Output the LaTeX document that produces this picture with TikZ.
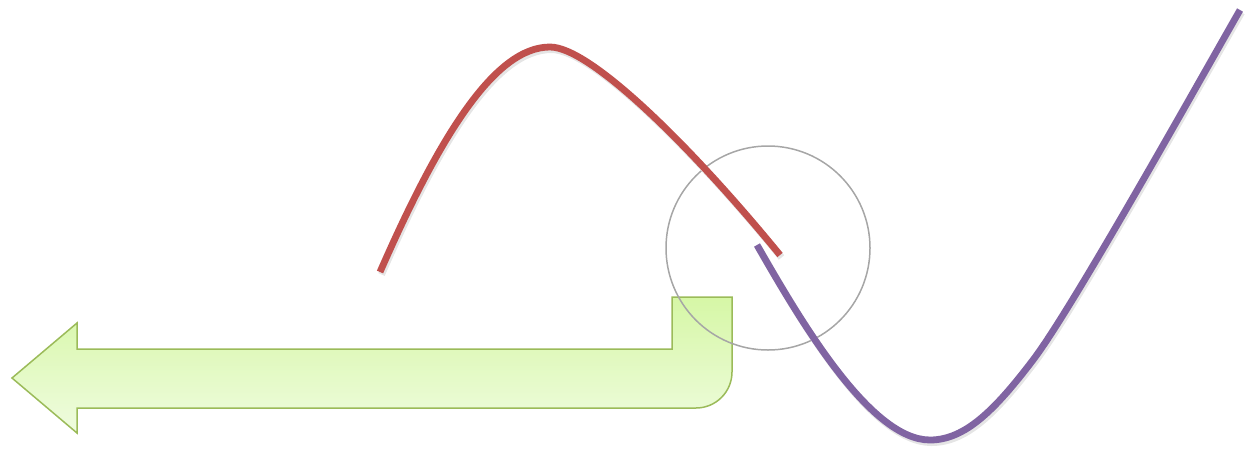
\documentclass[tikz,border=0pt]{standalone}
\usetikzlibrary{shadings}
\definecolor{redc}{HTML}{C0504D}
\definecolor{purc}{HTML}{8064A2}
\definecolor{grnline}{HTML}{9BBB59}
\definecolor{grntop}{HTML}{D6F7A6}
\definecolor{grnbot}{HTML}{EFFCDF}
\definecolor{circc}{HTML}{A6A6A6}
\tikzset{
  curveline/.style={line width=6.8pt},
  shadowline/.style={line width=7pt, black!10, xshift=1.5pt, yshift=-2.5pt},
  redpath/.style={insert path={(380,272) .. controls (440,135) and (495,47) .. (550,47) .. controls (590,47) and (690,145) .. (780,255)}},
  purpath/.style={insert path={(757,245) .. controls (800,320) and (870,440) .. (930,440) .. controls (965,440) and (995,410) .. (1033,360) .. controls (1071,310) and (1183,110) .. (1240,10)}},
}
\begin{document}
\begin{tikzpicture}[x=1pt,y=-1pt]
\useasboundingbox (0,0) rectangle (1252,448);
% green bent arrow
\coordinate (tip) at (12,378);
\path[top color=grntop, bottom color=grnbot, draw=grnline, line width=1.5pt, line join=miter]
  (tip) -- (77,323) -- (77,349) -- (672,349) -- (672,297) -- (732,297) -- (732,372)
  arc[start angle=0, end angle=90, radius=36] -- (77,408) -- (77,433) -- cycle;
% circle
\node[draw=circc, line width=1.5pt, circle, minimum size=204pt, inner sep=0pt] (ring) at (768,248) {};
% shadows
\draw[shadowline, redpath];
\draw[shadowline, purpath];
% red curve
\draw[curveline, redc, redpath];
% purple curve
\draw[curveline, purc, purpath];
\end{tikzpicture}
\end{document}
